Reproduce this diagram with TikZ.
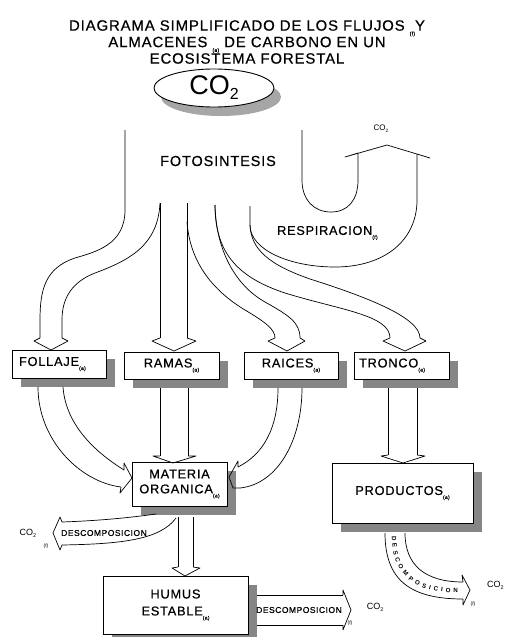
\documentclass[tikz,border=0pt]{standalone}
\usepackage{fontspec}
\setmainfont{Liberation Sans}
\newfontfamily\lbl{Liberation Sans}[LetterSpace=6,FakeBold=0.6]
\usetikzlibrary{shapes.geometric,shadows,decorations.text}

\newcommand{\marca}[1]{\raisebox{-.6ex}{\fontsize{5}{5}\selectfont(#1)}}
\newcommand{\cdos}{CO\raisebox{-.45ex}{\scalebox{.6}{2}}}

\begin{document}
\begin{tikzpicture}[x=1pt,y=1pt,yscale=-1,xscale=1,
  caja/.style={draw, line width=1pt, fill=white, inner sep=0pt, align=center,
    font=\lbl\fontsize{12.8}{15}\selectfont,
    drop shadow={shadow xshift=9pt, shadow yshift=-9pt, fill=gray!95, opacity=1}},
  flujo/.style={line width=0.7pt, line join=round},
  rotulo/.style={inner sep=0pt, font=\lbl\fontsize{12.7}{13}\selectfont}]
\useasboundingbox (0,0) rectangle (509,637);

% Text Node
\node (titulo) [align=center, inner sep=0pt, font=\lbl\fontsize{14.9}{16.5}\selectfont] at (247,42)
  {DIAGRAMA SIMPLIFICADO DE LOS FLUJOS \marca{f}Y\\ALMACENES \marca{a} DE CARBONO EN UN\\ECOSISTEMA FORESTAL};
% Shape: Ellipse
\fill [gray!70] (221,97) ellipse [x radius=60, y radius=19];
\node (co2) [draw, ellipse, fill=white, line width=0.9pt, inner sep=0pt, minimum width=120, minimum height=38,
  font=\fontsize{27}{27}\selectfont] at (214,88) {CO\raisebox{-.35ex}{\fontsize{16}{16}\selectfont 2}};

% Text Node
\node (foto) [rotulo, font=\lbl\fontsize{14.5}{15}\selectfont] at (218,161) {FOTOSINTESIS};
% Text Node
\node (resp) [rotulo, anchor=west] at (277,233) {RESPIRACION\marca{f}};
% Text Node
\node (co2resp) [inner sep=0pt, font=\fontsize{8}{8}\selectfont] at (381,129) {\cdos};

% Shape: Rectangle
\node (follaje) [caja, minimum height=28, inner xsep=7pt, text width=80, align=left] at (59,364) {FOLLAJE\marca{a}};
\node (ramas) [caja, minimum width=95, minimum height=27] at (171.5,365.5) {RAMAS\marca{a}};
\node (raices) [caja, minimum width=94, minimum height=27] at (291,365.5) {RAICES\marca{a}};
\node (tronco) [caja, minimum height=27, inner xsep=5pt, text width=85, align=left] at (401.5,365.5) {TRONCO\marca{a}};
\node (materia) [caja, minimum width=95, minimum height=44] at (179.5,484) {MATERIA\\ORGANICA\marca{a}};
\node (productos) [caja, minimum width=141, minimum height=60] at (402.5,493) {PRODUCTOS\marca{a}};
\node (humus) [caja, minimum width=145, minimum height=58, font=\lbl\fontsize{12.8}{17}\selectfont] at (175.5,605) {HUMUS\\ESTABLE\marca{a}};

% Connection: fotosintesis -> follaje
\draw [flujo] (125,130) -- (125,210) .. controls (125,245) and (95,252) .. (75,258) .. controls (45,268) and (40,290) .. (40,320) -- (40,338) ;
\draw [flujo] (160,203) .. controls (158,245) and (130,260) .. (95,273) .. controls (72,282) and (62,298) .. (62,320) -- (62,338) ;
\draw [flujo] (40,338) -- (34,341) -- (51,350) -- (68,341) -- (62,338) ;
% Connection: fotosintesis -> ramas
\draw [flujo] (160,203) -- (160,338) ;
\draw [flujo] (187,203) -- (187,338) ;
\draw [flujo] (160,338) -- (152,341) -- (174,351) -- (196,341) -- (187,338) ;
% Connection: fotosintesis -> raices
\draw [flujo] (187,222) .. controls (190,262) and (212,290) .. (245,310) .. controls (267,323) and (275,330) .. (275,338) ;
\draw [flujo] (215,205) .. controls (216,250) and (235,285) .. (265,302) .. controls (288,315) and (300,322) .. (300,338) ;
\draw [flujo] (275,338) -- (268,341) -- (287,351) -- (305,341) -- (300,338) ;
% Connection: fotosintesis -> tronco
\draw [flujo] (215,205) .. controls (215,255) and (240,278) .. (285,293) .. controls (340,310) and (390,315) .. (390,338) ;
\draw [flujo] (250,225) .. controls (251,250) and (270,265) .. (310,279) .. controls (370,298) and (420,318) .. (420,338) ;
\draw [flujo] (390,338) -- (383,341) -- (405,351) -- (426,341) -- (420,338) ;
% Connection: respiracion
\draw [flujo] (250,206) -- (250,225) .. controls (250,250) and (290,267) .. (335,267) .. controls (385,267) and (417,240) .. (417,200) -- (417,154) ;
\draw [flujo] (302,130) -- (302,180) .. controls (302,200) and (314,212) .. (331,212) .. controls (348,212) and (358,200) .. (358,180) -- (358,153) ;
\draw [flujo] (358,153) -- (345,157) -- (387,145) -- (430,158) -- (417,154) ;

% Connection: follaje -> materia
\draw [flujo] (38,387) .. controls (38,440) and (80,482) .. (121,487) ;
\draw [flujo] (63,387) .. controls (66,428) and (100,455) .. (124,470) ;
\draw [flujo] (124,470) -- (124,463) -- (132,478) -- (120,493) -- (121,487) ;
% Connection: ramas -> materia
\draw [flujo] (160,388) -- (160,456) ;
\draw [flujo] (188,388) -- (188,456) ;
\draw [flujo] (160,456) -- (153,456) -- (173,463) -- (196,456) -- (188,456) ;
% Connection: raices -> materia
\draw [flujo] (278,388) .. controls (278,430) and (262,455) .. (238,467) ;
\draw [flujo] (302,388) .. controls (302,440) and (278,484) .. (240,488) ;
\draw [flujo] (238,467) -- (238,461) -- (229,477) -- (233,488) -- (240,488) ;
% Connection: tronco -> productos
\draw [flujo] (388,388) -- (388,455) ;
\draw [flujo] (417,388) -- (417,455) ;
\draw [flujo] (388,455) -- (381,456) -- (403,463) -- (425,456) -- (417,455) ;
% Connection: materia -> humus
\draw [flujo] (178,517) -- (178,567) ;
\draw [flujo] (193,517) -- (193,567) ;
\draw [flujo] (178,567) -- (172,568) -- (185,576) -- (200,568) -- (193,567) ;

% Connection: materia -> co2 (descomposicion)
\draw [flujo] (156,514) .. controls (120,519) and (90,521) .. (62,522) ;
\draw [flujo] (176,518) .. controls (160,540) and (120,544) .. (62,545) ;
\draw [flujo] (62,522) -- (60,517) -- (53,533) -- (60,550) -- (62,545) ;
\node (descizq) [inner sep=0pt, font=\lbl\fontsize{8.5}{9}\selectfont] at (104,533) {DESCOMPOSICION};
\node (co2izq) [inner sep=0pt, font=\fontsize{9}{9}\selectfont] at (28,533) {\cdos};
\node (fizq) [inner sep=0pt, font=\fontsize{5}{5}\selectfont] at (46,546) {(f)};
% Connection: humus -> co2 (descomposicion)
\draw [flujo] (257,595) -- (343,595) ;
\draw [flujo] (257,625) -- (343,625) ;
\draw [flujo] (343,595) -- (343,590) -- (351,610) -- (343,630) -- (343,625) ;
\node (descder) [inner sep=0pt, font=\lbl\fontsize{8.5}{9}\selectfont] at (299,610) {DESCOMPOSICION};
\node (co2der) [inner sep=0pt, font=\fontsize{9}{9}\selectfont] at (375,607) {\cdos};
\node (fder) [inner sep=0pt, font=\fontsize{5}{5}\selectfont] at (350,623) {(f)};
% Connection: productos -> co2 (descomposicion)
\draw [flujo] (385,533) .. controls (385,580) and (410,599) .. (463,599) ;
\draw [flujo] (405,533) .. controls (405,565) and (425,582) .. (463,582) ;
\draw [flujo] (463,582) -- (462,575) -- (470,590) -- (463,605) -- (463,599) ;
\path [decorate, decoration={text along path, text={|\bfseries\fontsize{6.2}{6.2}\selectfont|DESCOMPOSICION},
  text align={fit to path}, raise=-3pt}] (395,536) .. controls (395,572) and (414,590) .. (458,590) ;
\node (co2prod) [inner sep=0pt, anchor=west, font=\fontsize{9}{9}\selectfont] at (487,585) {\cdos};
\node (fprod) [inner sep=0pt, font=\fontsize{5}{5}\selectfont] at (473,604) {(f)};

\end{tikzpicture}
\end{document}
